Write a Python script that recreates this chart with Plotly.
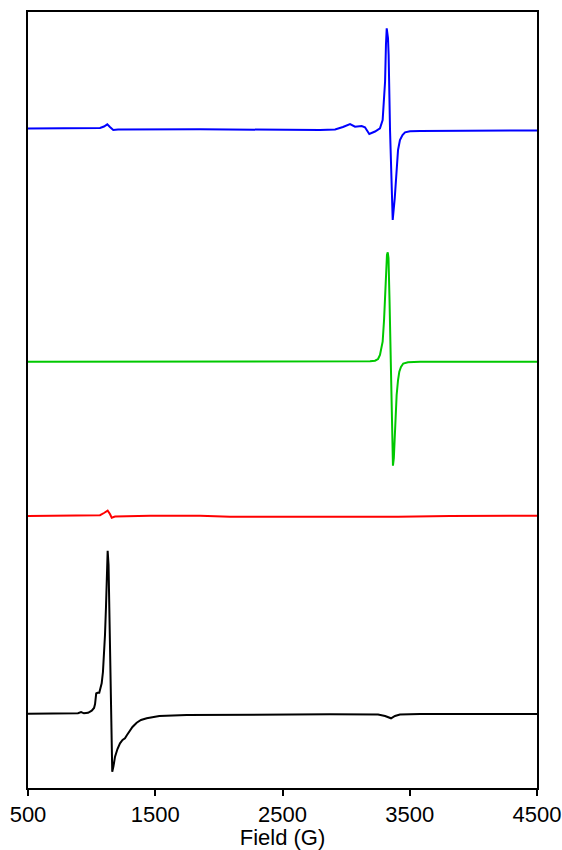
import plotly.graph_objects as go

# ---- data (intensity in arbitrary units, baseline = 0) ----
blue_field = [500, 987, 1066, 1097, 1123, 1144, 1170, 1207, 1852, 2795, 2913, 2975, 3031, 3070,
              3122, 3148, 3182, 3227, 3266, 3287, 3306, 3313, 3319, 3329, 3334, 3345, 3357, 3366,
              3382, 3397, 3408, 3423, 3443, 3463, 3502, 3581, 4500]
blue_int = [0, 0, 0.5, 2, 4.2, 1.5, -1.5, -1, -0.8, -1.5, -1, 1.5, 4.5, 1.8,
            2.5, 1.2, -5.5, -3, 0.2, 8.5, 46.8, 83.5, 100.2, 90.5, 73.5, -1.5, -61.5, -91.5,
            -69.8, -36.5, -21.5, -11.5, -6.5, -3.8, -2.7, -2.5, -2]

green_field = [500, 3109, 3188, 3227, 3251, 3266, 3278, 3287, 3298, 3303, 3313, 3321, 3327, 3333,
               3341, 3349, 3357, 3363, 3368, 3375, 3382, 3389, 3397, 3408, 3418, 3431, 3449, 3486,
               3581, 4500]
green_int = [0, 0, 0.4, 1, 2.7, 6.7, 12.7, 20, 41.7, 56.7, 90, 106.7, 109.4, 103.7,
             61.7, 1.7, -58.3, -93.3, -104, -96.3, -76.6, -50.3, -33.3, -18.3, -10, -5.3, -1.8, -0.6,
             0, 0]

red_field = [500, 987, 1066, 1097, 1126, 1144, 1158, 1184, 1459, 1852, 2087, 2638, 3306, 3358,
             3408, 3816, 4500]
red_int = [0, 0.2, 0.8, 3, 5.3, 2, -1.7, -0.5, 0.3, 0.2, -0.7, -0.8, -0.8, -1.3,
           -0.7, 0, 0.3]

black_field = [500, 830, 893, 917, 940, 972, 1001, 1019, 1027, 1036, 1046, 1060, 1070, 1079, 1089,
               1097, 1105, 1113, 1121, 1126, 1133, 1144, 1155, 1162, 1172, 1184, 1203, 1223, 1243,
               1262, 1278, 1296, 1321, 1354, 1388, 1433, 1532, 1747, 2245, 2873, 3251, 3306, 3353,
               3384, 3423, 3581, 4500]
black_int = [0, 0.2, 0.5, 1.7, 0.4, 0.9, 3, 5.7, 9.7, 20.2, 20.9, 21, 25.7, 30.4, 41.7,
             57, 78.7, 107, 143.7, 163, 148.7, 53.7, -26.3, -58, -52.3, -43, -35.3, -29.6, -26.3,
             -24.6, -21.3, -18, -13.3, -9, -6.3, -4.6, -2.3, -1.3, -0.8, -0.6, -0.8, -2.3, -4.6,
             -2.3, -0.8, -0.3, -0.3]

series_fields = [blue_field, green_field, red_field, black_field]
series_ints = [blue_int, green_int, red_int, black_int]
series_offsets = [659.5, 426.3, 272, 74.3]
series_colors = ["#0000FF", "#00C800", "#FF0000", "#000000"]

x_ticks = [500, 1500, 2500, 3500, 4500]
x_title = "Field (G)"

fig = go.Figure()
for fx, iy, off, col in zip(series_fields, series_ints, series_offsets, series_colors):
    fig.add_trace(go.Scatter(
        x=fx, y=[v + off for v in iy], mode="lines",
        line=dict(color=col, width=2), showlegend=False, hoverinfo="skip"))

fig.update_layout(
    width=562, height=850,
    margin=dict(l=28, r=25, t=12, b=62),
    paper_bgcolor="white", plot_bgcolor="white",
    font=dict(family="Liberation Sans, Arial, sans-serif", color="black", size=22),
)
fig.update_xaxes(
    range=[500, 4500], tickvals=x_ticks, ticktext=[str(t) for t in x_ticks],
    ticks="outside", ticklen=6, tickwidth=1.5, tickcolor="black",
    showline=True, linecolor="black", linewidth=1.5, mirror=True,
    showgrid=False, zeroline=False, automargin=False,
    title=dict(text=x_title, standoff=4, font=dict(size=22)),
    tickfont=dict(size=22),
)
fig.update_yaxes(
    range=[0, 776], showticklabels=False, ticks="",
    showline=True, linecolor="black", linewidth=1.5, mirror=True,
    showgrid=False, zeroline=False, automargin=False,
)

fig.write_html("out.html")
